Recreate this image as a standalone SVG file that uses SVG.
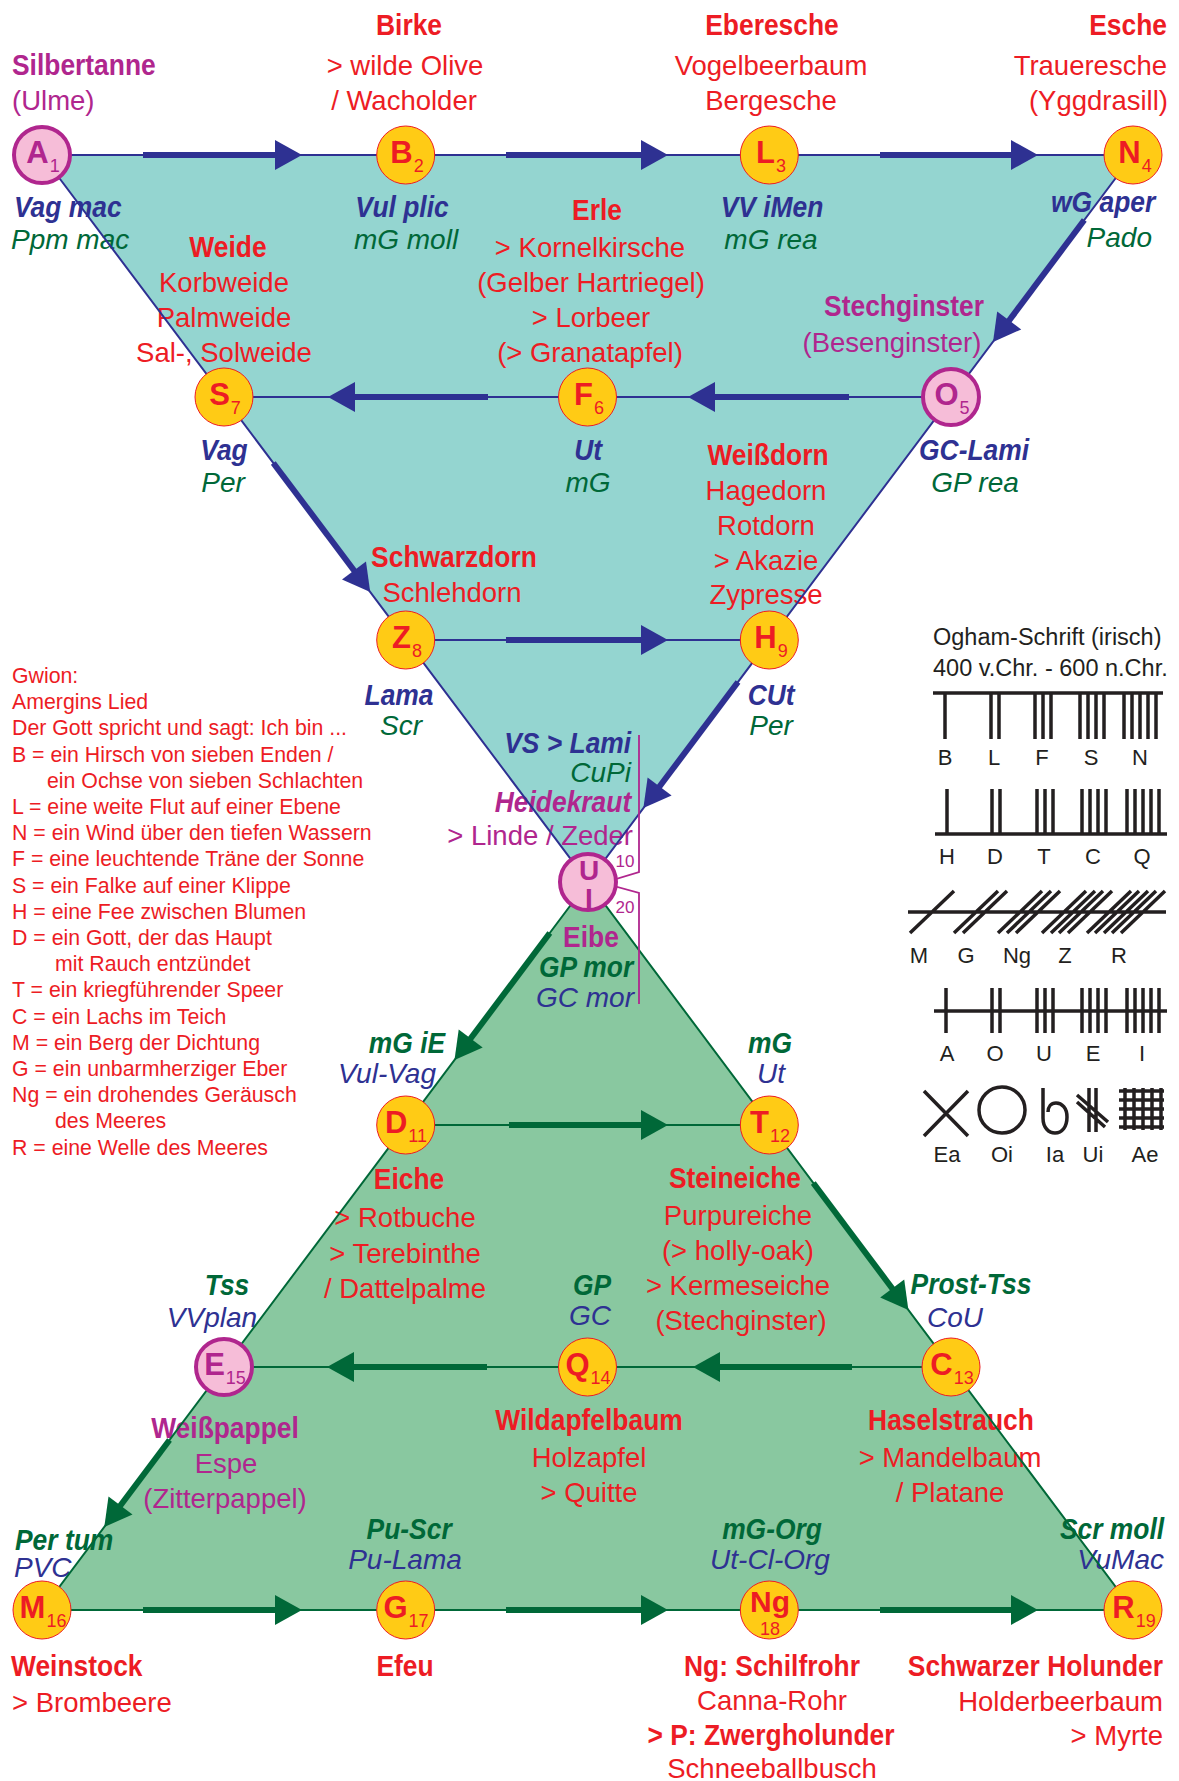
<svg xmlns="http://www.w3.org/2000/svg" width="1179" height="1781" viewBox="0 0 1179 1781">
<style>
text{font-family:"Liberation Sans",Arial,sans-serif}
.rd{fill:#ED1C24}.mg{fill:#B0268E}.nv{fill:#2E3192}.gr{fill:#006838}.k{fill:#231F20}
.reg{font-size:27.5px}
.t{font-size:30px;font-weight:bold;transform:scaleX(.88);transform-box:fill-box}
.lb{font-size:30px;font-weight:bold;font-style:italic;transform:scaleX(.88);transform-box:fill-box}
.li{font-size:28px;font-style:italic}
.m{text-anchor:middle;transform-origin:center}
.s{text-anchor:start;transform-origin:left}
.e{text-anchor:end;transform-origin:right}
.g{font-size:21.3px}
.og{font-size:22px;text-anchor:middle}
.nl{font-size:31px;font-weight:bold;text-anchor:middle}
.sub{font-size:18px;font-weight:normal}
.eu{stroke:#2E3192;stroke-width:2;fill:none}
.el{stroke:#006838;stroke-width:2;fill:none}
.au{stroke:#2E3192;stroke-width:6;marker-end:url(#hu)}
.al{stroke:#006838;stroke-width:6;marker-end:url(#hl)}
.ny{fill:#FFCB15;stroke:#ED1C24;stroke-width:1}
.np{fill:#F6BDD8;stroke:#B0268E;stroke-width:4}
.oh{stroke:#231F20;stroke-width:3.5;fill:none}
</style>
<defs>
<marker id="hu" markerUnits="userSpaceOnUse" markerWidth="30" markerHeight="30" refX="7" refY="15" orient="auto" overflow="visible"><path d="M0,0 L27,15 L0,30 Z" fill="#2E3192"/></marker>
<marker id="hl" markerUnits="userSpaceOnUse" markerWidth="30" markerHeight="30" refX="7" refY="15" orient="auto" overflow="visible"><path d="M0,0 L27,15 L0,30 Z" fill="#006838"/></marker>
</defs>
<rect width="1179" height="1781" fill="#fff"/>
<g id="fills">
<polygon points="42,155 1133,155 588,882" fill="#94D5D0"/>
<polygon points="588,882 42,1610 1133,1610" fill="#89C8A0"/>
</g>
<g id="labels-top">
<text class="t m rd" x="409" y="35">Birke</text>
<text class="reg m rd" x="405" y="75">&gt; wilde Olive</text>
<text class="reg m rd" x="404" y="110">/ Wacholder</text>
<text class="t m rd" x="772" y="35">Eberesche</text>
<text class="reg m rd" x="771" y="75">Vogelbeerbaum</text>
<text class="reg m rd" x="771" y="110">Bergesche</text>
<text class="t e rd" x="1167" y="35">Esche</text>
<text class="reg e rd" x="1167" y="75">Traueresche</text>
<text class="reg e rd" x="1168" y="110">(Yggdrasill)</text>
<text class="t s mg" x="12" y="75">Silbertanne</text>
<text class="reg s mg" x="12" y="110">(Ulme)</text>
<text class="lb s nv" x="14" y="217">Vag mac</text>
<text class="li s gr" x="11" y="249">Ppm mac</text>
<text class="lb m nv" x="402" y="217">Vul plic</text>
<text class="li m gr" x="406" y="249">mG moll</text>
<text class="lb m nv" x="772" y="217">VV iMen</text>
<text class="li m gr" x="771" y="249">mG rea</text>
<text class="lb e nv" x="1155" y="212">wG aper</text>
<text class="li e gr" x="1152" y="247">Pado</text>
<text class="t m rd" x="228" y="257">Weide</text>
<text class="reg m rd" x="224" y="292">Korbweide</text>
<text class="reg m rd" x="224" y="327">Palmweide</text>
<text class="reg m rd" x="224" y="362">Sal-, Solweide</text>
<text class="t m rd" x="597" y="220">Erle</text>
<text class="reg m rd" x="590" y="257">&gt; Kornelkirsche</text>
<text class="reg m rd" x="591" y="292">(Gelber Hartriegel)</text>
<text class="reg m rd" x="591" y="327">&gt; Lorbeer</text>
<text class="reg m rd" x="590" y="362">(&gt; Granatapfel)</text>
<text class="t m mg" x="904" y="316">Stechginster</text>
<text class="reg m mg" x="892" y="352">(Besenginster)</text>
<text class="lb m nv" x="224" y="460">Vag</text>
<text class="li m gr" x="223" y="492">Per</text>
<text class="lb m nv" x="588" y="460">Ut</text>
<text class="li m gr" x="588" y="492">mG</text>
<text class="lb m nv" x="974" y="460">GC-Lami</text>
<text class="li m gr" x="975" y="492">GP rea</text>
<text class="t m rd" x="768" y="465">Weißdorn</text>
<text class="reg m rd" x="766" y="500">Hagedorn</text>
<text class="reg m rd" x="766" y="535">Rotdorn</text>
<text class="reg m rd" x="766" y="570">&gt; Akazie</text>
<text class="reg m rd" x="766" y="604">Zypresse</text>
<text class="t m rd" x="454" y="567">Schwarzdorn</text>
<text class="reg m rd" x="452" y="602">Schlehdorn</text>
<text class="lb m nv" x="399" y="705">Lama</text>
<text class="li m gr" x="401" y="735">Scr</text>
<text class="lb m nv" x="771" y="705">CUt</text>
<text class="li m gr" x="771" y="735">Per</text>
</g>
<g id="labels-middle">
<text class="lb e nv" x="631" y="753">VS &gt; Lami</text>
<text class="li e gr" x="631" y="782">CuPi</text>
<text class="lb e mg" x="631" y="812">Heidekraut</text>
<text class="reg e mg" x="633" y="845">&gt; Linde / Zeder</text>
<text class="t m mg" x="591" y="947">Eibe</text>
<text class="lb e gr" x="633" y="977">GP mor</text>
<text class="li e nv" x="634" y="1007">GC mor</text>
<text class="mg" x="625" y="867" font-size="17" text-anchor="middle">10</text>
<text class="mg" x="625" y="913" font-size="17" text-anchor="middle">20</text>
</g>
<g id="labels-bottom">
<text class="lb e gr" x="445" y="1053">mG iE</text>
<text class="li e nv" x="436" y="1083">Vul-Vag</text>
<text class="lb m gr" x="770" y="1053">mG</text>
<text class="li m nv" x="771" y="1083">Ut</text>
<text class="t m rd" x="409" y="1189">Eiche</text>
<text class="reg m rd" x="405" y="1227">&gt; Rotbuche</text>
<text class="reg m rd" x="405" y="1263">&gt; Terebinthe</text>
<text class="reg m rd" x="405" y="1298">/ Dattelpalme</text>
<text class="t m rd" x="735" y="1188">Steineiche</text>
<text class="reg m rd" x="738" y="1225">Purpureiche</text>
<text class="reg m rd" x="738" y="1260">(&gt; holly-oak)</text>
<text class="reg m rd" x="738" y="1295">&gt; Kermeseiche</text>
<text class="reg m rd" x="741" y="1330">(Stechginster)</text>
<text class="lb m gr" x="227" y="1295">Tss</text>
<text class="li m nv" x="212" y="1327">VVplan</text>
<text class="lb m gr" x="592" y="1295">GP</text>
<text class="li m nv" x="590" y="1325">GC</text>
<text class="lb m gr" x="971" y="1294">Prost-Tss</text>
<text class="li m nv" x="955" y="1327">CoU</text>
<text class="t m mg" x="225" y="1438">Weißpappel</text>
<text class="reg m mg" x="226" y="1473">Espe</text>
<text class="reg m mg" x="225" y="1508">(Zitterpappel)</text>
<text class="t m rd" x="589" y="1430">Wildapfelbaum</text>
<text class="reg m rd" x="589" y="1467">Holzapfel</text>
<text class="reg m rd" x="589" y="1502">&gt; Quitte</text>
<text class="t m rd" x="951" y="1430">Haselstrauch</text>
<text class="reg m rd" x="950" y="1467">&gt; Mandelbaum</text>
<text class="reg m rd" x="950" y="1502">/ Platane</text>
<text class="lb s gr" x="15" y="1550">Per tum</text>
<text class="li s nv" x="14" y="1577">PVC</text>
<text class="lb m gr" x="409" y="1539">Pu-Scr</text>
<text class="li m nv" x="405" y="1569">Pu-Lama</text>
<text class="lb m gr" x="772" y="1539">mG-Org</text>
<text class="li m nv" x="770" y="1569">Ut-Cl-Org</text>
<text class="lb e gr" x="1164" y="1539">Scr moll</text>
<text class="li e nv" x="1164" y="1569">VuMac</text>
<text class="t s rd" x="11" y="1676">Weinstock</text>
<text class="reg s rd" x="12" y="1712">&gt; Brombeere</text>
<text class="t m rd" x="405" y="1676">Efeu</text>
<text class="t m rd" x="772" y="1676">Ng: Schilfrohr</text>
<text class="reg m rd" x="772" y="1710">Canna-Rohr</text>
<text class="t m rd" x="771" y="1745">&gt; P: Zwergholunder</text>
<text class="reg m rd" x="772" y="1778">Schneeballbusch</text>
<text class="t e rd" x="1163" y="1676">Schwarzer Holunder</text>
<text class="reg e rd" x="1163" y="1711">Holderbeerbaum</text>
<text class="reg e rd" x="1163" y="1745">&gt; Myrte</text>
</g>
<g id="gwion" class="g rd">
<text x="12" y="683">Gwion:</text>
<text x="12" y="709">Amergins Lied</text>
<text x="12" y="735">Der Gott spricht und sagt: Ich bin ...</text>
<text x="12" y="762">B = ein Hirsch von sieben Enden /</text>
<text x="47" y="788">ein Ochse von sieben Schlachten</text>
<text x="12" y="814">L = eine weite Flut auf einer Ebene</text>
<text x="12" y="840">N = ein Wind über den tiefen Wassern</text>
<text x="12" y="866">F = eine leuchtende Träne der Sonne</text>
<text x="12" y="893">S = ein Falke auf einer Klippe</text>
<text x="12" y="919">H = eine Fee zwischen Blumen</text>
<text x="12" y="945">D = ein Gott, der das Haupt</text>
<text x="55" y="971">mit Rauch entzündet</text>
<text x="12" y="997">T = ein kriegführender Speer</text>
<text x="12" y="1024">C = ein Lachs im Teich</text>
<text x="12" y="1050">M = ein Berg der Dichtung</text>
<text x="12" y="1076">G = ein unbarmherziger Eber</text>
<text x="12" y="1102">Ng = ein drohendes Geräusch</text>
<text x="55" y="1128">des Meeres</text>
<text x="12" y="1155">R = eine Welle des Meeres</text>
</g>
<g id="ogham">
<text class="k" x="933" y="645" font-size="23.5">Ogham-Schrift (irisch)</text>
<text class="k" x="933" y="676" font-size="23.5">400 v.Chr. - 600 n.Chr.</text>
<path class="oh" d="M933,693 H1163 M945,693 V739 M991,693 V739 M999,693 V739 M1035,693 V739 M1043,693 V739 M1051,693 V739 M1080,693 V739 M1088,693 V739 M1096,693 V739 M1104,693 V739 M1124,693 V739 M1132,693 V739 M1140,693 V739 M1148,693 V739 M1156,693 V739"/>
<path class="oh" d="M935,834 H1167 M947,789 V834 M992,789 V834 M1000,789 V834 M1037,789 V834 M1045,789 V834 M1053,789 V834 M1082,789 V834 M1090,789 V834 M1098,789 V834 M1106,789 V834 M1127,789 V834 M1135,789 V834 M1143,789 V834 M1151,789 V834 M1159,789 V834"/>
<path class="oh" d="M908,912 H1166 M910,933 l44,-42 M954,933 l44,-42 M963,933 l44,-42 M998,933 l44,-42 M1007,933 l44,-42 M1016,933 l44,-42 M1042,933 l44,-42 M1051,933 l44,-42 M1059,933 l44,-42 M1068,933 l44,-42 M1087,933 l44,-42 M1095,933 l44,-42 M1104,933 l44,-42 M1112,933 l44,-42 M1121,933 l44,-42"/>
<path class="oh" d="M934,1011 H1167 M946,988 V1033 M992,988 V1033 M1000,988 V1033 M1037,988 V1033 M1045,988 V1033 M1053,988 V1033 M1082,988 V1033 M1090,988 V1033 M1098,988 V1033 M1106,988 V1033 M1127,988 V1033 M1135,988 V1033 M1143,988 V1033 M1151,988 V1033 M1159,988 V1033"/>
<path class="oh" stroke-width="3" d="M924,1091 L968,1136 M968,1091 L924,1136"/>
<circle class="oh" stroke-width="3" cx="1002" cy="1110" r="23"/>
<path class="oh" stroke-width="3" d="M1043,1088 V1118 C1043,1128 1049,1133 1055,1133 C1062,1133 1067,1127 1067,1117 C1067,1108 1062,1103 1056,1103 C1051,1103 1048,1107 1048,1112"/>
<path class="oh" stroke-width="3" d="M1089,1088 V1132 M1096,1088 V1132 M1077,1095 L1108,1122 M1077,1102 L1105,1127"/>
<path class="oh" d="M1119,1091 H1164 M1119,1100 H1164 M1119,1109 H1164 M1119,1118 H1164 M1119,1127 H1164 M1125,1088 V1130 M1134,1088 V1130 M1143,1088 V1130 M1152,1088 V1130 M1161,1088 V1130"/>
<g class="og k">
<text x="945" y="765">B</text><text x="994" y="765">L</text><text x="1042" y="765">F</text><text x="1091" y="765">S</text><text x="1140" y="765">N</text>
<text x="947" y="864">H</text><text x="995" y="864">D</text><text x="1044" y="864">T</text><text x="1093" y="864">C</text><text x="1142" y="864">Q</text>
<text x="919" y="963">M</text><text x="966" y="963">G</text><text x="1017" y="963">Ng</text><text x="1065" y="963">Z</text><text x="1119" y="963">R</text>
<text x="947" y="1061">A</text><text x="995" y="1061">O</text><text x="1044" y="1061">U</text><text x="1093" y="1061">E</text><text x="1142" y="1061">I</text>
<text x="947" y="1162">Ea</text><text x="1002" y="1162">Oi</text><text x="1055" y="1162">Ia</text><text x="1093" y="1162">Ui</text><text x="1145" y="1162">Ae</text>
</g>
</g>
<g id="connectors">
<path class="eu" d="M42,155 H1133 M224,397 H951 M405.7,640 H769.3 M42,155 L588,882 L1133,155"/>
<path class="el" d="M588,882 L42,1610 H1133 Z M405.7,1125 H769.3 M224,1367 H951"/>
<line class="au" x1="143" y1="155" x2="282" y2="155"/>
<line class="au" x1="506" y1="155" x2="648" y2="155"/>
<line class="au" x1="880" y1="155" x2="1018" y2="155"/>
<line class="au" x1="1084.3" y1="220" x2="1005" y2="326"/>
<line class="au" x1="849" y1="397" x2="708" y2="397"/>
<line class="au" x1="488" y1="397" x2="348" y2="397"/>
<line class="au" x1="273.3" y1="463" x2="358.2" y2="576"/>
<line class="au" x1="506" y1="640" x2="648" y2="640"/>
<line class="au" x1="738" y1="682" x2="655.4" y2="792"/>
<line class="al" x1="549.8" y1="933" x2="466.5" y2="1044"/>
<line class="al" x1="509" y1="1125" x2="648" y2="1125"/>
<line class="al" x1="813.3" y1="1183" x2="896.4" y2="1294"/>
<line class="al" x1="852" y1="1367" x2="713" y2="1367"/>
<line class="al" x1="487" y1="1367" x2="347" y2="1367"/>
<line class="al" x1="169.5" y1="1440" x2="116.3" y2="1511"/>
<line class="al" x1="143" y1="1610" x2="282" y2="1610"/>
<line class="al" x1="506" y1="1610" x2="648" y2="1610"/>
<line class="al" x1="880" y1="1610" x2="1018" y2="1610"/>
</g>
<g id="bracket">
<polyline points="639,735 639,872 603,883 639,893 639,1004" fill="none" stroke="#B0268E" stroke-width="1.8"/>
</g>
<g id="node-A"><circle class="np" cx="42" cy="155" r="28"/><text class="nl mg" x="43" y="163">A<tspan class="sub" dx="1" dy="9">1</tspan></text></g>
<g id="node-B"><circle class="ny" cx="405.7" cy="155" r="29"/><text class="nl rd" x="407" y="163">B<tspan class="sub" dx="1" dy="9">2</tspan></text></g>
<g id="node-L"><circle class="ny" cx="769.3" cy="155" r="29"/><text class="nl rd" x="771" y="163">L<tspan class="sub" dx="1" dy="9">3</tspan></text></g>
<g id="node-N"><circle class="ny" cx="1133" cy="155" r="29"/><text class="nl rd" x="1135" y="163">N<tspan class="sub" dx="1" dy="9">4</tspan></text></g>
<g id="node-O"><circle class="np" cx="951" cy="397" r="28"/><text class="nl mg" x="952" y="405">O<tspan class="sub" dx="1" dy="9">5</tspan></text></g>
<g id="node-F"><circle class="ny" cx="587.5" cy="397" r="29"/><text class="nl rd" x="589" y="405">F<tspan class="sub" dx="1" dy="9">6</tspan></text></g>
<g id="node-S"><circle class="ny" cx="224" cy="397" r="29"/><text class="nl rd" x="225" y="405">S<tspan class="sub" dx="1" dy="9">7</tspan></text></g>
<g id="node-Z"><circle class="ny" cx="405.7" cy="640" r="29"/><text class="nl rd" x="407" y="648">Z<tspan class="sub" dx="1" dy="9">8</tspan></text></g>
<g id="node-H"><circle class="ny" cx="769.3" cy="640" r="29"/><text class="nl rd" x="771" y="648">H<tspan class="sub" dx="1" dy="9">9</tspan></text></g>
<g id="node-UI"><circle class="np" cx="588" cy="882" r="28"/><text class="mg" x="589" y="880" font-size="28" font-weight="bold" text-anchor="middle">U</text><text class="mg" x="589" y="908" font-size="28" font-weight="bold" text-anchor="middle">I</text></g>
<g id="node-D"><circle class="ny" cx="405.7" cy="1125" r="29"/><text class="nl rd" x="406" y="1133">D<tspan class="sub" dx="1" dy="9">11</tspan></text></g>
<g id="node-T"><circle class="ny" cx="769.3" cy="1125" r="29"/><text class="nl rd" x="770" y="1133">T<tspan class="sub" dx="1" dy="9">12</tspan></text></g>
<g id="node-C"><circle class="ny" cx="951" cy="1367" r="29"/><text class="nl rd" x="952" y="1375">C<tspan class="sub" dx="1" dy="9">13</tspan></text></g>
<g id="node-Q"><circle class="ny" cx="587.5" cy="1367" r="29"/><text class="nl rd" x="588" y="1375">Q<tspan class="sub" dx="1" dy="9">14</tspan></text></g>
<g id="node-E"><circle class="np" cx="224" cy="1367" r="28"/><text class="nl mg" x="225" y="1375">E<tspan class="sub" dx="1" dy="9">15</tspan></text></g>
<g id="node-M"><circle class="ny" cx="42" cy="1610" r="29"/><text class="nl rd" x="43" y="1618">M<tspan class="sub" dx="1" dy="9">16</tspan></text></g>
<g id="node-G"><circle class="ny" cx="405.7" cy="1610" r="29"/><text class="nl rd" x="406" y="1618">G<tspan class="sub" dx="1" dy="9">17</tspan></text></g>
<g id="node-Ng"><circle class="ny" cx="769.3" cy="1610" r="29"/><text class="rd" x="770" y="1612" font-size="30" font-weight="bold" text-anchor="middle">Ng</text><text class="rd" x="770" y="1635" font-size="18" text-anchor="middle">18</text></g>
<g id="node-R"><circle class="ny" cx="1133" cy="1610" r="29"/><text class="nl rd" x="1134" y="1618">R<tspan class="sub" dx="1" dy="9">19</tspan></text></g>
</svg>
